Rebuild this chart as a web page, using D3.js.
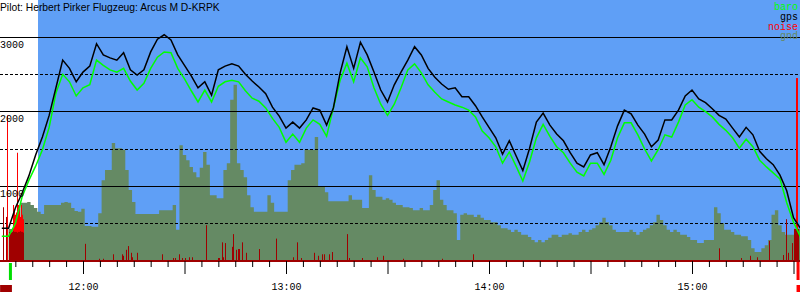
<!DOCTYPE html>
<html>
<head>
<meta charset="utf-8">
<script src="https://cdn.jsdelivr.net/npm/d3@7"></script>
<style>
  body { margin: 0; background: #fff; }
  svg { display: block; }
</style>
</head>
<body>
<div id="chart"></div>
<script>
// Flight trace: altitudes in metres, times in minutes after midnight
const title = "Pilot: Herbert Pirker Flugzeug: Arcus M D-KRPK";
const legendNames = ["baro", "gps", "noise", "gnd"];
const altTicks = [500, 1000, 1500, 2000, 2500, 3000];
const hourLabels = ["12:00", "13:00", "14:00", "15:00"];

// gps and baro sampled every 2 minutes from 11:36
const trackStart = 696;
const trackStep = 2;
const gps = [440,440,710,910,1140,1420,1660,1950,2320,2690,
  2580,2400,2530,2610,2910,2760,2720,2690,2790,2560,
  2490,2560,2800,2970,3030,2960,2760,2620,2480,2320,
  2400,2220,2560,2610,2640,2610,2500,2410,2330,2240,
  2060,1940,1780,1860,1780,1890,2050,2020,1820,2050,
  2520,2870,2580,2930,2760,2530,2290,2130,2360,2530,
  2690,2870,2760,2580,2460,2370,2300,2320,2200,2200,
  2080,1930,1790,1650,1430,1610,1410,1210,1510,1860,
  1980,1820,1700,1610,1450,1310,1260,1420,1450,1290,
  1530,1810,2020,1970,1820,1700,1530,1620,1890,1890,
  2020,2210,2290,2170,2120,2040,1950,1900,1780,1660,
  1790,1690,1470,1370,1290,1150,940,580,440];
const baro = [330,330,500,860,1080,1270,1490,1790,2250,2500,
  2400,2210,2320,2360,2690,2620,2560,2530,2580,2410,
  2290,2380,2580,2730,2800,2790,2580,2440,2280,2130,
  2290,2130,2340,2400,2420,2400,2280,2180,2140,2050,
  1910,1790,1590,1700,1590,1780,1890,1830,1670,2050,
  2420,2650,2400,2720,2600,2320,2100,1950,2100,2320,
  2560,2640,2520,2360,2260,2170,2130,2090,2060,2020,
  1930,1740,1650,1530,1310,1460,1270,1070,1330,1650,
  1830,1670,1530,1450,1310,1190,1140,1310,1310,1160,
  1350,1650,1850,1850,1690,1500,1340,1490,1690,1660,
  1860,2090,2160,2060,2000,1930,1830,1750,1650,1510,
  1630,1530,1350,1260,1180,1100,780,520,330];

// terrain under the track, every minute from 11:36
const gndStart = 696;
const gndStep = 1;
const gnd = [null,null,430,430,430,430,780,780,790,750,
  710,660,630,750,750,750,750,750,780,790,
  780,710,670,660,700,470,470,460,460,640,
  1080,1220,1220,1580,1510,1510,1490,1220,950,790,
  630,630,630,630,630,630,630,680,680,680,
  680,750,420,1550,1420,1350,1260,1190,1120,1250,
  1460,1290,880,880,840,840,1220,1310,2160,2360,
  1310,1220,1120,880,720,660,660,660,660,880,
  780,660,660,660,660,1080,1220,1290,1290,1310,
  1490,1490,1490,1660,990,990,920,800,800,800,
  800,800,800,880,820,820,820,710,710,1150,
  950,860,860,820,840,820,780,750,750,720,
  720,710,680,680,710,680,680,750,950,1080,
  820,750,680,680,640,280,620,640,620,620,
  590,620,580,550,550,520,520,480,440,440,
  420,390,420,390,350,350,320,280,250,280,
  250,280,310,350,350,320,350,350,370,350,
  350,390,420,390,420,440,480,520,580,520,
  480,420,390,390,390,390,420,390,350,390,
  420,440,480,520,620,550,480,420,390,420,
  390,350,350,320,280,280,240,240,280,280,
  280,720,640,510,420,420,390,350,350,330,
  330,280,170,120,120,170,210,280,620,680,
  480,390,350,350,350,430,430];

// variometer noise readings
const noiseTime = [696.5,697.1,
  698.1,698.4,698.7,699.0,699.3,699.6,699.9,700.2,700.5,700.8,701.1,701.4,701.7,702.0,702.3,
  720.6,724.8,726.0,729.0,731.6,731.9,732.6,733.4,734.1,734.6,736.0,743.4,746.5,747.2,748.5,
  749.2,750.1,751.2,752.3,756.4,760.0,760.3,761.0,761.5,762.1,764.1,764.4,765.2,765.7,766.2,
  766.9,767.1,768.2,772.1,777.1,782.2,783.2,784.3,788.4,789.5,790.6,791.3,792.6,793.7,798.1,
  798.5,802.6,807.0,808.7,814.6,826.1,835.3,
  908.0,914.5,917.1,919.2,922.8,926.9,927.8,928.4,929.6,
  930.1,930.4,930.7,931.0,931.3];
const noiseValue = [720,590,
  390,390,380,390,400,390,390,390,380,390,390,400,390,390,380,
  230,30,30,90,90,70,150,200,110,50,110,90,40,40,90,
  40,40,50,50,480,40,40,250,50,240,190,360,150,160,160,
  130,250,110,160,300,50,250,40,110,70,90,90,90,120,360,
  40,40,50,70,30,30,90,
  170,40,70,50,270,80,560,110,240,
  430,430,430,430,430];

// high readings while the motor runs
const motorTime = [697.5,699.2,699.6,700.0,700.2,700.5,700.7,700.9,701.1,701.4,701.7,701.9,702.0,702.2,930.7,931.0];
const motorValue = [1950,750,680,620,650,1450,700,750,700,590,750,620,550,560,2450,2450];

const logStart = 695.5;
const takeoff = 698.4;
const landing = 930.9;
const logEnd = 932;

const width = 800, height = 300;
const mono = "Liberation Mono, DejaVu Sans Mono, monospace";

const svg = d3.select("#chart").append("svg")
  .attr("width", width)
  .attr("height", height);

const x = d3.scaleLinear().domain([720, 900]).range([83, 692]);
const y = d3.scaleLinear().domain([0, 3000]).range([261, 37]);
const crisp = v => Math.floor(v) + 0.5;

// sky
svg.append("rect")
  .attr("x", 38).attr("y", 0)
  .attr("width", width - 38).attr("height", y(0))
  .attr("fill", "#5f9ff6");

// ground
const gndData = gnd.map((v, i) => ({ t: gndStart + i * gndStep, v: v }));
svg.append("path")
  .datum(gndData)
  .attr("fill", "#658a64")
  .attr("d", d3.area()
    .defined(d => d.v != null)
    .curve(d3.curveStep)
    .x(d => x(d.t))
    .y0(y(0))
    .y1(d => y(d.v)));

// grid lines
svg.selectAll(".grid")
  .data(altTicks)
  .enter().append("line")
  .attr("x1", 0).attr("x2", width)
  .attr("y1", d => crisp(y(d))).attr("y2", d => crisp(y(d)))
  .attr("stroke", "#000")
  .attr("stroke-width", 1)
  .attr("stroke-dasharray", d => d % 1000 ? "3,2" : null);

// noise bars
svg.selectAll(".motor")
  .data(motorTime)
  .enter().append("rect")
  .attr("x", d => Math.round(x(d)))
  .attr("width", 1)
  .attr("y", (d, i) => y(motorValue[i]))
  .attr("height", (d, i) => y(0) - y(motorValue[i]))
  .attr("fill", "#ff0000");

svg.selectAll(".noise")
  .data(noiseTime)
  .enter().append("rect")
  .attr("x", d => Math.round(x(d)))
  .attr("width", 1)
  .attr("y", (d, i) => y(noiseValue[i]))
  .attr("height", (d, i) => y(0) - y(noiseValue[i]))
  .attr("fill", "#a00000");

// noise base line
svg.append("line")
  .attr("x1", 0).attr("x2", width)
  .attr("y1", y(0)).attr("y2", y(0))
  .attr("stroke", "#a00000")
  .attr("stroke-width", 2);

// altitude traces
const line = d3.line().x(d => x(d.t)).y(d => y(d.v));
const toPts = arr => arr.map((v, i) => ({ t: trackStart + i * trackStep, v: v }));

svg.append("path")
  .datum(toPts(baro))
  .attr("fill", "none")
  .attr("stroke", "#00ff00")
  .attr("stroke-width", 1.5)
  .attr("d", line);

svg.append("path")
  .datum(toPts(gps))
  .attr("fill", "none")
  .attr("stroke", "#000")
  .attr("stroke-width", 1.5)
  .attr("d", line);

// altitude labels on the solid lines
svg.selectAll(".alt")
  .data(altTicks.filter(d => d % 1000 === 0))
  .enter().append("text")
  .attr("x", 0)
  .attr("y", d => y(d) + 10.5)
  .attr("font-family", mono)
  .attr("font-size", 10)
  .attr("fill", "#000")
  .text(d => d);

// time axis
const toMin = s => +s.slice(0, 2) * 60 + +s.slice(3);
const hourMins = hourLabels.map(toMin);

const minorAxis = d3.axisBottom(x)
  .tickValues(d3.range(700, logEnd, 5).filter(m => m % 30))
  .tickSize(6)
  .tickFormat("");
const halfAxis = d3.axisBottom(x)
  .tickValues(d3.range(690, logEnd, 30).filter(m => m % 60))
  .tickSize(13)
  .tickFormat("");
const hourAxis = d3.axisBottom(x)
  .tickValues(hourMins)
  .tickSize(13)
  .tickPadding(9)
  .tickFormat((d, i) => hourLabels[i]);

[minorAxis, halfAxis, hourAxis].forEach(ax => {
  const g = svg.append("g")
    .attr("transform", "translate(0," + y(0) + ")")
    .call(ax);
  g.select(".domain").remove();
  g.selectAll("line").attr("stroke", "#000");
  g.selectAll("text")
    .attr("font-family", mono)
    .attr("font-size", 10)
    .attr("fill", "#000");
});

// takeoff / landing markers
svg.append("rect")
  .attr("x", x(takeoff) - 1).attr("y", 263)
  .attr("width", 3).attr("height", 17)
  .attr("fill", "#00dd00");
svg.append("rect")
  .attr("x", x(logStart)).attr("y", 285)
  .attr("width", x(takeoff) + 2 - x(logStart)).attr("height", 7)
  .attr("fill", "#a00000");
svg.append("rect")
  .attr("x", x(landing)).attr("y", 262)
  .attr("width", 3).attr("height", 18)
  .attr("fill", "#ff0000");
svg.append("rect")
  .attr("x", x(landing)).attr("y", 285)
  .attr("width", x(logEnd) - x(landing)).attr("height", 7)
  .attr("fill", "#ff0000");

// title
svg.append("text")
  .attr("x", 0).attr("y", 10.5)
  .attr("font-family", "Liberation Sans, Arial, sans-serif")
  .attr("font-size", 10.3)
  .attr("fill", "#000")
  .text(title);

// legend
const legendColors = ["#00ff00", "#000", "#ff0000", "#658a64"];
svg.selectAll(".legend")
  .data(legendNames)
  .enter().append("text")
  .attr("x", 798)
  .attr("y", (d, i) => 10 + i * 9.8)
  .attr("text-anchor", "end")
  .attr("font-family", mono)
  .attr("font-size", 10)
  .attr("fill", (d, i) => legendColors[i])
  .text(d => d);
</script>
</body>
</html>
